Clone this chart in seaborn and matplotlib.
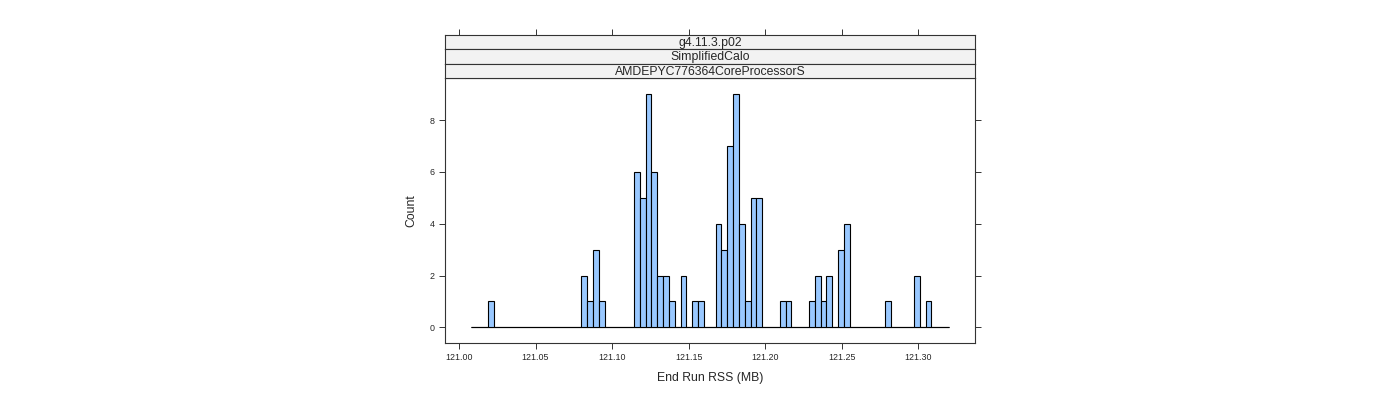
import numpy as np
import pandas as pd
import matplotlib
matplotlib.use('Agg')
import matplotlib.pyplot as plt
import seaborn as sns

sns.set_style('white')
plt.rcParams['font.family'] = ['Liberation Sans', 'DejaVu Sans']

# histogram breaks and counts (82 equal bins)
bin_start = 121.00764
bin_width = 0.003809
counts = [0, 0, 0, 1, 0, 0, 0, 0, 0, 0,
          0, 0, 0, 0, 0, 0, 0, 0, 0, 2,
          1, 3, 1, 0, 0, 0, 0, 0, 6, 5,
          9, 6, 2, 2, 1, 0, 2, 0, 1, 1,
          0, 0, 4, 3, 7, 9, 4, 1, 5, 5,
          0, 0, 0, 1, 1, 0, 0, 0, 1, 2,
          1, 2, 0, 3, 4, 0, 0, 0, 0, 0,
          0, 1, 0, 0, 0, 0, 2, 0, 1, 0,
          0, 0]
x_ticks = [121.00, 121.05, 121.10, 121.15, 121.20, 121.25, 121.30]
y_ticks = [0, 2, 4, 6, 8]
strip_labels = ['g4.11.3.p02', 'SimplifiedCalo', 'AMDEPYC776364CoreProcessorS']

edges = bin_start + bin_width * np.arange(len(counts) + 1)
df = pd.DataFrame({'rss': (edges[:-1] + edges[1:]) / 2, 'n': counts})

W, H = 1400, 400
fig = plt.figure(figsize=(14, 4), dpi=100)

def frac(l, t, r, b):
    return [l / W, 1 - b / H, (r - l) / W, (b - t) / H]

P_L, P_R, P_T, P_B = 444.5, 975.2, 78.3, 343.3
xlim = (120.99053, 121.33717)
ylim = (-0.618, 9.62)

ax = fig.add_axes(frac(P_L, P_T, P_R, P_B))
# empty bins show as a flat line along zero, like lattice does
ax.hlines(0, edges[0], edges[-1], color='black', linewidth=0.8, zorder=1)
sns.histplot(data=df, x='rss', weights='n', bins=edges.tolist(), ax=ax,
             color='#99c8ff', edgecolor='black', linewidth=0.8, alpha=1,
             zorder=2)
ax.set_xlim(*xlim)
ax.set_ylim(*ylim)
ax.set_xticks(x_ticks)
ax.set_xticklabels([f'{v:.2f}' for v in x_ticks])
ax.set_yticks(y_ticks)
ax.set_xlabel('')
ax.set_ylabel('')
ax.tick_params(direction='out', length=4.3, width=0.7, color='#333333',
               labelsize=6.4, pad=3, right=True, bottom=True, left=True)
for s in ax.spines.values():
    s.set_linewidth(0.8)
    s.set_color('#333333')
    s.set_visible(True)

# strips
strip_h = (P_T - 34.8) / 3
for i, lab in enumerate(strip_labels):
    top = 34.8 + i * strip_h
    sax = fig.add_axes(frac(P_L, top, P_R, top + strip_h))
    sax.set_facecolor('#f2f2f2')
    sax.set_xlim(*xlim)
    sax.set_ylim(0, 1)
    sax.set_yticks([])
    if i == 0:
        sax.set_xticks(x_ticks)
        sax.tick_params(axis='x', direction='out', length=4.3, width=0.7,
                        color='#333333', top=True, bottom=False,
                        labeltop=False, labelbottom=False)
    else:
        sax.set_xticks([])
    for s in sax.spines.values():
        s.set_linewidth(0.8)
        s.set_color('#333333')
        s.set_visible(True)
    sax.text(0.5, 0.45, lab, transform=sax.transAxes, ha='center', va='center',
             fontsize=8.8)

fig.text((P_L + P_R) / 2 / W, 1 - 378 / H, 'End Run RSS (MB)',
         ha='center', va='center', fontsize=8.8)
fig.text(411 / W, 1 - ((P_T + P_B) / 2) / H, 'Count', rotation=90,
         ha='center', va='center', fontsize=8.8)

fig.savefig('out.png', dpi=100)
